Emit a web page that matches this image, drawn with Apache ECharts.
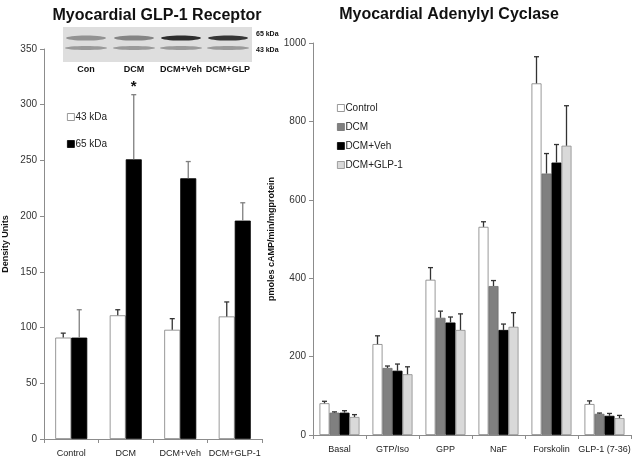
<!DOCTYPE html>
<html>
<head>
<meta charset="utf-8">
<script src="https://cdn.jsdelivr.net/npm/echarts@6/dist/echarts.min.js"></script>
<style>
  html, body { margin: 0; padding: 0; background: #fff; }
  #chart { width: 636px; height: 461px; }
</style>
</head>
<body>
<div id="chart"></div>
<script>
// left panel: GLP-1 receptor density
const receptorGroups = ['Control', 'DCM', 'DCM+Veh', 'DCM+GLP-1']
const kda43 = [91, 111, 98, 110]
const kda43Err = [95, 116, 108, 123]
const kda65 = [91, 251, 234, 196]
const kda65Err = [116, 309, 249, 212]

// right panel: adenylyl cyclase activity
const cyclaseStimuli = ['Basal', 'GTP/Iso', 'GPP', 'NaF', 'Forskolin', 'GLP-1 (7-36)']
const acControl = [81, 232, 396, 531, 897, 79]
const acControlErr = [86, 253, 427, 544, 965, 87]
const acDcm = [57, 171, 299, 380, 667, 54]
const acDcmErr = [59, 176, 316, 394, 718, 56]
const acDcmVeh = [57, 164, 287, 268, 695, 49]
const acDcmVehErr = [62, 181, 301, 283, 741, 55]
const acDcmGlp = [46, 155, 268, 276, 738, 43]
const acDcmGlpErr = [52, 174, 309, 312, 840, 50]

const blotLanes = ['Con', 'DCM', 'DCM+Veh', 'DCM+GLP']

const font = 'Liberation Sans, Arial, sans-serif'

let chart = echarts.init(document.getElementById('chart'))

// error bar drawn above a bar; idx/count place it in the bar group
function errSeries(name, x, y, vals, errs, idx, count, color) {
  return {
    type: 'custom',
    name: name + ' err',
    xAxisIndex: x,
    yAxisIndex: y,
    z: 5,
    silent: true,
    data: vals.map((v, i) => [i, v, errs[i]]),
    renderItem: function (params, api) {
      let w = x === 0 ? 16 : 10
      let off = (idx - (count - 1) / 2) * w
      let p0 = api.coord([api.value(0), api.value(1)])
      let p1 = api.coord([api.value(0), api.value(2)])
      let cx = p0[0] + off
      let st = { stroke: color, lineWidth: 1.3 }
      return {
        type: 'group',
        children: [
          { type: 'line', shape: { x1: cx, y1: p0[1], x2: cx, y2: p1[1] }, style: st },
          { type: 'line', shape: { x1: cx - 2.5, y1: p1[1], x2: cx + 2.5, y2: p1[1] }, style: st }
        ]
      }
    }
  }
}

function axisY(idx, max, interval, name, gap) {
  return {
    type: 'value', gridIndex: idx, min: 0, max: max, interval: interval,
    name: name, nameLocation: 'middle', nameGap: gap, nameRotate: 90,
    nameTextStyle: { fontFamily: font, fontSize: 9, fontWeight: 'bold', color: '#111' },
    axisLine: { show: true, lineStyle: { color: '#8c8c8c' } },
    axisTick: { show: true, length: 4, lineStyle: { color: '#8c8c8c' } },
    axisLabel: { fontFamily: font, fontSize: 10, color: '#333', margin: 7, formatter: v => String(v) },
    splitLine: { show: false }
  }
}

function axisX(idx, data) {
  return {
    type: 'category', gridIndex: idx, data: data,
    axisLine: { lineStyle: { color: '#8c8c8c' } },
    axisTick: { show: true, length: 4, lineStyle: { color: '#8c8c8c' } },
    axisLabel: { fontFamily: font, fontSize: 9, color: '#222', margin: 10, interval: 0 }
  }
}

// blot picture (decorative, not data)
let blot = [
  { type: 'rect', shape: { x: 63, y: 27, width: 189, height: 35 },
    style: { fill: '#dedede' }, z: 10 }
]
let laneX = [86, 134, 181, 228]
let upperDark = ['#8a8a8a', '#7a7a7a', '#1a1a1a', '#222']
laneX.forEach((lx, i) => {
  blot.push({ type: 'ellipse', shape: { cx: lx, cy: 38, rx: 20, ry: 2.6 },
    style: { fill: upperDark[i], opacity: 0.9 }, z: 11 })
  blot.push({ type: 'ellipse', shape: { cx: lx, cy: 48, rx: 21, ry: 2 },
    style: { fill: '#8e8e8e', opacity: 0.85 }, z: 11 })
  blot.push({ type: 'text', x: lx, y: 70, style: { text: blotLanes[i], font: 'bold 9px ' + font,
    fill: '#111', align: 'center', verticalAlign: 'middle' }, z: 11 })
})
blot.push({ type: 'text', x: 256, y: 34, style: { text: '65 kDa', font: 'bold 7px ' + font, fill: '#111', verticalAlign: 'middle' }, z: 11 })
blot.push({ type: 'text', x: 256, y: 50, style: { text: '43 kDa', font: 'bold 7px ' + font, fill: '#111', verticalAlign: 'middle' }, z: 11 })

let option = {
  animation: false,
  backgroundColor: '#fff',
  title: [
    { text: 'Myocardial GLP-1 Receptor', left: 152, top: 3, textAlign: 'center',
      textStyle: { fontFamily: font, fontSize: 16, fontWeight: 'bold', color: '#111' } },
    { text: 'Myocardial Adenylyl Cyclase', left: 444, top: 2, textAlign: 'center',
      textStyle: { fontFamily: font, fontSize: 16, fontWeight: 'bold', color: '#111' } }
  ],
  legend: [
    { data: ['43 kDa', '65 kDa'], orient: 'vertical', left: 62, top: 107, itemGap: 17,
      itemWidth: 7, itemHeight: 7, icon: 'rect', itemStyle: { borderWidth: 0.8 },
      textStyle: { fontFamily: font, fontSize: 10, color: '#222', padding: [0, 0, 0, -4] } },
    { data: ['Control', 'DCM', 'DCM+Veh', 'DCM+GLP-1'], orient: 'vertical', left: 332, top: 98,
      itemGap: 9, itemWidth: 7, itemHeight: 7, icon: 'rect', itemStyle: { borderWidth: 0.8 },
      textStyle: { fontFamily: font, fontSize: 10, color: '#222', padding: [0, 0, 0, -4] } }
  ],
  grid: [
    { left: 42, right: 374, top: 49, bottom: 22 },
    { left: 313, right: 5, top: 43, bottom: 26 }
  ],
  xAxis: [axisX(0, receptorGroups), axisX(1, cyclaseStimuli)],
  yAxis: [axisY(0, 350, 50, 'Density Units', 34), axisY(1, 1000, 200, 'pmoles cAMP/min/mgprotein', 37)],
  series: [
    { name: '43 kDa', type: 'bar', xAxisIndex: 0, yAxisIndex: 0, data: kda43, barWidth: 16, barGap: '0%',
      itemStyle: { color: '#fff', borderColor: '#7f7f7f', borderWidth: 0.8 } },
    { name: '65 kDa', type: 'bar', xAxisIndex: 0, yAxisIndex: 0, data: kda65, barWidth: 16, barGap: '0%',
      itemStyle: { color: '#000', borderColor: '#000', borderWidth: 0.8 } },
    errSeries('43 kDa', 0, 0, kda43, kda43Err, 0, 2, '#333'),
    errSeries('65 kDa', 0, 0, kda65, kda65Err, 1, 2, '#7f7f7f'),

    { name: 'Control', type: 'bar', xAxisIndex: 1, yAxisIndex: 1, data: acControl, barWidth: 10, barGap: '0%',
      itemStyle: { color: '#fff', borderColor: '#7f7f7f', borderWidth: 0.8 } },
    { name: 'DCM', type: 'bar', xAxisIndex: 1, yAxisIndex: 1, data: acDcm, barWidth: 10, barGap: '0%',
      itemStyle: { color: '#808080', borderColor: '#6f6f6f', borderWidth: 0.8 } },
    { name: 'DCM+Veh', type: 'bar', xAxisIndex: 1, yAxisIndex: 1, data: acDcmVeh, barWidth: 10, barGap: '0%',
      itemStyle: { color: '#000', borderColor: '#000', borderWidth: 0.8 } },
    { name: 'DCM+GLP-1', type: 'bar', xAxisIndex: 1, yAxisIndex: 1, data: acDcmGlp, barWidth: 10, barGap: '0%',
      itemStyle: { color: '#d9d9d9', borderColor: '#8c8c8c', borderWidth: 0.8 } },
    errSeries('Control', 1, 1, acControl, acControlErr, 0, 4, '#333'),
    errSeries('DCM', 1, 1, acDcm, acDcmErr, 1, 4, '#333'),
    errSeries('DCM+Veh', 1, 1, acDcmVeh, acDcmVehErr, 2, 4, '#333'),
    errSeries('DCM+GLP-1', 1, 1, acDcmGlp, acDcmGlpErr, 3, 4, '#333')
  ],
  graphic: blot
}

chart.setOption(option)

// significance star above the DCM 65 kDa error bar
let star = chart.convertToPixel({ xAxisIndex: 0, yAxisIndex: 0 }, [1, kda65Err[1]])
chart.setOption({
  graphic: blot.concat([{ type: 'text', x: star[0] + 8, y: star[1] - 8,
    style: { text: '*', font: 'bold 15px ' + font, fill: '#111', align: 'center', verticalAlign: 'middle' }, z: 11 }])
})
</script>
</body>
</html>
